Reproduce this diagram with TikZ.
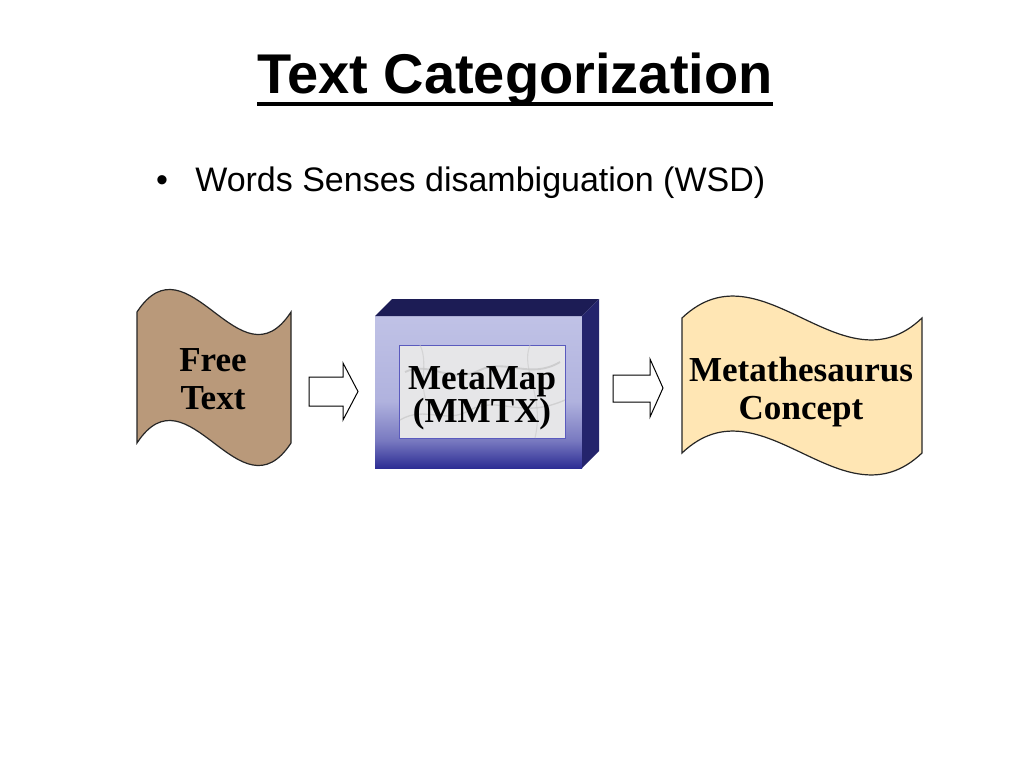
\documentclass[tikz,border=0pt]{standalone}
\usepackage{fontspec}
\setmainfont{Liberation Serif}
\newfontfamily\arialfont{Liberation Sans}
\definecolor{ftTan}{RGB}{185,153,122}
\definecolor{mcPeach}{RGB}{255,230,180}
\definecolor{mmTopFace}{RGB}{28,28,85}
\definecolor{mmSideFace}{RGB}{36,36,108}
\definecolor{mmC1}{RGB}{45,45,148}
\definecolor{mmC2}{RGB}{120,121,192}
\definecolor{mmC3}{RGB}{176,178,222}
\definecolor{mmC4}{RGB}{192,194,230}
\definecolor{marble}{RGB}{230,230,232}
\definecolor{marbleEdge}{RGB}{90,90,190}
\pgfdeclareverticalshading{mmfront}{100bp}{color(0bp)=(mmC1); color(25bp)=(mmC1); color(34bp)=(mmC2); color(47bp)=(mmC3); color(75bp)=(mmC4); color(100bp)=(mmC4)}
\tikzset{
  shapeline/.style={draw=black!85, line width=0.9pt},
  boxtext/.style={font=\bfseries\fontsize{26.3}{28.5}\selectfont, align=center, inner sep=0pt},
  blockarrow/.style={draw=black, fill=white, line width=0.75pt, line join=miter},
}
\begin{document}
\begin{tikzpicture}[x=0.75pt,y=-0.75pt]
\useasboundingbox[fill=white] (0,0) rectangle (1024,768);

% title
\node[font=\arialfont\bfseries\fontsize{42}{50}\selectfont, anchor=base, inner sep=0pt] (title) at (515,93.5) {Text Categorization};
\draw[line width=3pt] ([yshift=-7.5pt]title.base west) -- ([yshift=-7.5pt]title.base east);

% bullet
\node[font=\arialfont\fontsize{25.5}{30}\selectfont, anchor=base, inner sep=0pt] (dot) at (162,191) {\textbullet};
\node[font=\arialfont\fontsize{25.5}{30}\selectfont, anchor=base west, inner sep=0pt] (wsd) at (195,191) {Words Senses disambiguation (WSD)};

% Free Text (punched tape)
\filldraw[shapeline, fill=ftTan] (137,312) .. controls (188,234) and (240,390) .. (291,312)
  -- (291,443) .. controls (240,521) and (188,365) .. (137,443) -- cycle;
\node[boxtext] (free) at (213,379) {Free\\Text};

% arrow 1
\draw[blockarrow] (309,377) -- (343,377) -- (343,363) -- (358,391.5) -- (343,420) -- (343,406) -- (309,406) -- cycle;

% MetaMap box
\shade[shading=mmfront] (375,316) rectangle (582,468);
\fill[mmTopFace] (375,316) -- (392,299) -- (599,299) -- (582,316) -- cycle;
\fill[mmSideFace] (582,316) -- (599,299) -- (599,451) -- (582,468) -- cycle;
\filldraw[fill=marble, draw=marbleEdge, line width=0.6pt] (399,345) rectangle (565,438);
\begin{scope}
\clip (399,345) rectangle (565,438);
\draw[gray!55, line width=1.4pt, opacity=0.55] (405,372) .. controls (430,360) and (450,385) .. (480,370) .. controls (505,358) and (530,380) .. (560,362);
\draw[gray!50, line width=1pt, opacity=0.55] (400,420) .. controls (425,405) and (445,425) .. (470,410) .. controls (500,395) and (520,420) .. (565,400);
\draw[gray!45, line width=0.8pt, opacity=0.55] (420,345) .. controls (430,365) and (415,390) .. (432,410);
\draw[gray!45, line width=0.8pt, opacity=0.55] (530,345) .. controls (520,370) and (545,395) .. (535,438);
\end{scope}
\node[boxtext, font=\bfseries\fontsize{26.3}{24.75}\selectfont] (mm) at (482,398) {MetaMap\\(MMTX)};

% arrow 2
\draw[blockarrow] (613,375) -- (650,375) -- (650,359) -- (663,388) -- (650,417) -- (650,402) -- (613,402) -- cycle;

% Metathesaurus Concept (punched tape)
\filldraw[shapeline, fill=mcPeach] (682,318) .. controls (762,242) and (842,394) .. (922,318)
  -- (922,453) .. controls (842,529) and (762,377) .. (682,453) -- cycle;
\node[boxtext] (meta) at (801,392) {Metathesaurus\\Concept};
\end{tikzpicture}
\end{document}
